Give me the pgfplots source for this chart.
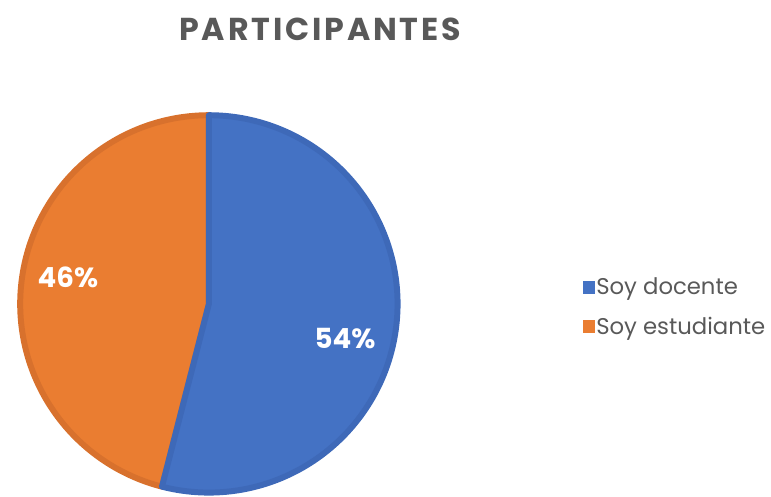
\documentclass[border=0pt]{standalone}
\usepackage{fontspec}
\setmainfont{Poppins}
\newfontfamily\titlefont[LetterSpace=9]{Poppins}
\usepackage{pgfplots}
\usepackage{pgfplotstable}
\pgfplotsset{compat=1.18}

\definecolor{sliceblue}{HTML}{4472C4}
\definecolor{sliceblueedge}{HTML}{3E69B8}
\definecolor{sliceorange}{HTML}{EA7D31}
\definecolor{sliceorangeedge}{HTML}{D8712D}
\definecolor{txtgray}{HTML}{595959}

% shares in percent
\pgfplotstableread{
label share
docente 54
estudiante 46
}\participantes

\begin{document}
\pgfplotstablegetelem{0}{share}\of\participantes \let\shareA\pgfplotsretval
\pgfplotstablegetelem{1}{share}\of\participantes \let\shareB\pgfplotsretval
\pgfmathsetmacro\cutA{90-3.6*\shareA}
\pgfmathsetmacro\cutB{\cutA+360}
\begin{tikzpicture}
\begin{axis}[
hide axis,
x=1bp, y=1bp,
xmin=0, xmax=771, ymin=0, ymax=500,
clip=false,
legend style={at={(axis cs:581,191)}, anchor=west, draw=none, fill=none,
  font=\fontsize{23}{25}\selectfont, text=txtgray, row sep=17bp,
  inner sep=0pt, nodes={inner xsep=1.5bp, inner ysep=2bp}},
legend cell align=left,
]
\path (axis cs:0,0) rectangle (axis cs:771,500);

% orange slice
\addplot[forget plot, fill=sliceorange, draw=sliceorangeedge, line width=6bp,
  line join=round, domain=90:\cutB, samples=150]
  ({205+190*cos(x)}, {194+190*sin(x)}) -- (axis cs:205,194) -- cycle;
% blue slice
\addplot[forget plot, fill=sliceblue, draw=sliceblueedge, line width=6bp,
  line join=round, domain=\cutA:90, samples=150]
  ({205+190*cos(x)}, {194+190*sin(x)}) -- (axis cs:205,194) -- cycle;

\addlegendimage{legend image code/.code={\fill[sliceblue] (0bp,-6bp) rectangle (12bp,6bp);}}
\addlegendentry{Soy docente}
\addlegendimage{legend image code/.code={\fill[sliceorange] (0bp,-6bp) rectangle (12bp,6bp);}}
\addlegendentry{Soy estudiante}

\node[text=white, font=\bfseries\fontsize{28}{28}\selectfont] at (axis cs:342,159) {\shareA\%};
\node[text=white, font=\bfseries\fontsize{28}{28}\selectfont] at (axis cs:63,221) {\shareB\%};

\node[text=txtgray, font=\titlefont\bfseries\fontsize{32}{32}\selectfont] at (axis cs:317,470) {PARTICIPANTES};
\end{axis}
\end{tikzpicture}
\end{document}
